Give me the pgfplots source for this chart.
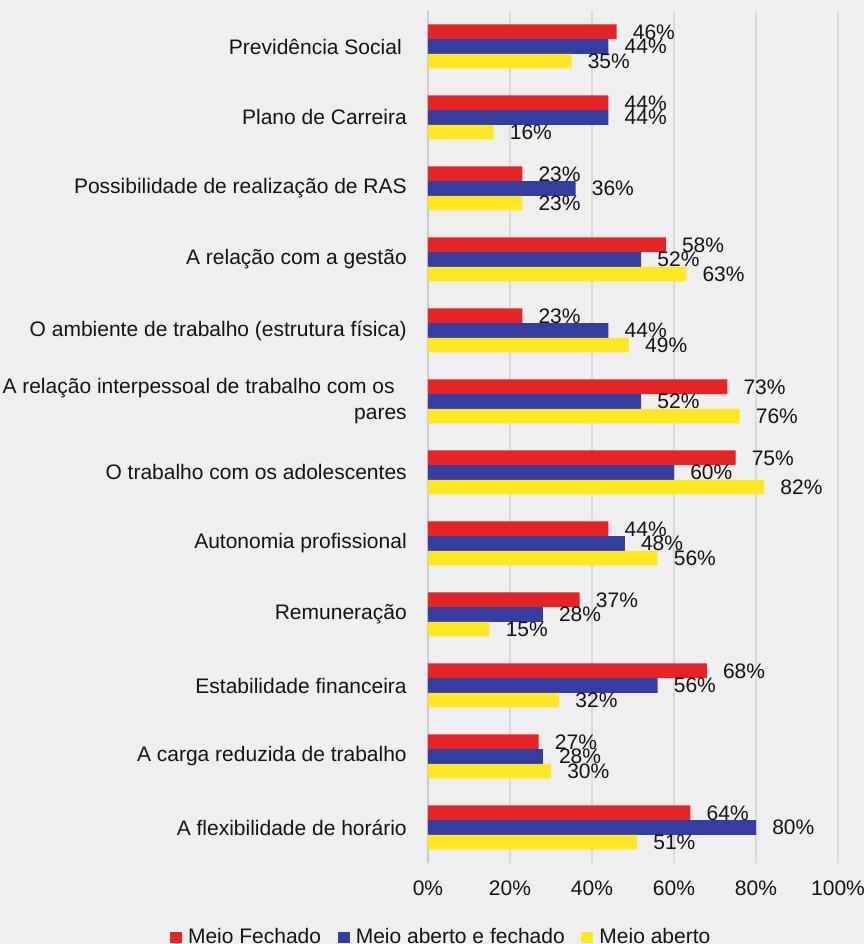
\documentclass[border=0pt]{standalone}
\usepackage{pgfplots}
\pgfplotsset{compat=1.18}
\usepackage{pgfplotstable}
\usepackage{fontspec}
\setmainfont{Liberation Sans}
\definecolor{bgcol}{RGB}{239,239,239}
\definecolor{cred}{RGB}{229,36,40}
\definecolor{cblue}{RGB}{54,61,161}
\definecolor{cyellow}{RGB}{255,232,35}
\definecolor{gridc}{RGB}{218,218,218}
\definecolor{txt}{RGB}{20,20,20}

\pgfplotstableread{
cat red blue yellow
11 46 44 35
10 44 44 16
9 23 36 23
8 58 52 63
7 23 44 49
6 73 52 76
5 75 60 82
4 44 48 56
3 37 28 15
2 68 56 32
1 27 28 30
0 64 80 51
}\datatab

\begin{document}
\begin{tikzpicture}[font=\fontsize{15.75}{19.5}\selectfont, text=txt]
\fill[bgcol] (-321pt,-60.75pt) rectangle (327pt,647.25pt);
\begin{axis}[
  at={(0pt,0pt)}, anchor=south west,
  scale only axis,
  width=307.5pt, height=639pt,
  xbar, bar width=11pt,
  xmin=0, xmax=100,
  ymin=-0.5, ymax=11.5,
  clip=false,
  xtick={0,20,40,60,80,100},
  xticklabel={\pgfmathprintnumber{\tick}\%},
  /pgf/number format/assume math mode=true,
  xticklabel style={anchor=north, inner sep=0pt, yshift=-13.5pt},
  ytick={0,...,11},
  yticklabels={A flexibilidade de horário, A carga reduzida de trabalho, Estabilidade financeira, Remuneração, Autonomia profissional, O trabalho com os adolescentes, {A relação interpessoal de trabalho com os\hspace*{9pt}\\pares}, O ambiente de trabalho (estrutura física), A relação com a gestão, Possibilidade de realização de RAS, Plano de Carreira, Previdência Social\hspace*{3.75pt}},
  yticklabel style={anchor=east, inner sep=0pt, xshift=-15.75pt, align=right},
  major tick length=0pt,
  tick style={draw=none},
  xmajorgrids=true,
  grid style={gridc, line width=1.1pt},
  axis lines*=left,
  x axis line style={draw=none},
  y axis line style={draw=black!20, line width=1.2pt, -},
  point meta=x,
  nodes near coords={\pgfmathprintnumber[fixed,precision=0]{\pgfplotspointmeta}\%},
  nodes near coords style={anchor=west, inner sep=0pt, xshift=12pt, text=txt},
  legend columns=3,
  legend style={draw=none, fill=none, at={(axis description cs:0.033,-0.0863)}, anchor=center,
    /tikz/every even column/.append style={column sep=10.5pt},
    /tikz/every odd column/.append style={column sep=2.5pt}},
]
\addplot[draw=none, fill=cred, bar shift=11pt,
  legend image code/.code={\fill[cred] (0pt,-4.5pt) rectangle (9pt,3.75pt);}] table[x=red, y=cat] {\datatab};
\addplot[draw=none, fill=cblue, bar shift=0pt,
  legend image code/.code={\fill[cblue] (0pt,-4.5pt) rectangle (9pt,3.75pt);}] table[x=blue, y=cat] {\datatab};
\addplot[draw=none, fill=cyellow, bar shift=-11pt,
  legend image code/.code={\fill[cyellow] (0pt,-4.5pt) rectangle (9pt,3.75pt);}] table[x=yellow, y=cat] {\datatab};
\legend{Meio Fechado, Meio aberto e fechado, Meio aberto}
\end{axis}
\pgfresetboundingbox
\path[use as bounding box] (-321pt,-60.75pt) rectangle (327pt,647.25pt);
\end{tikzpicture}
\end{document}
